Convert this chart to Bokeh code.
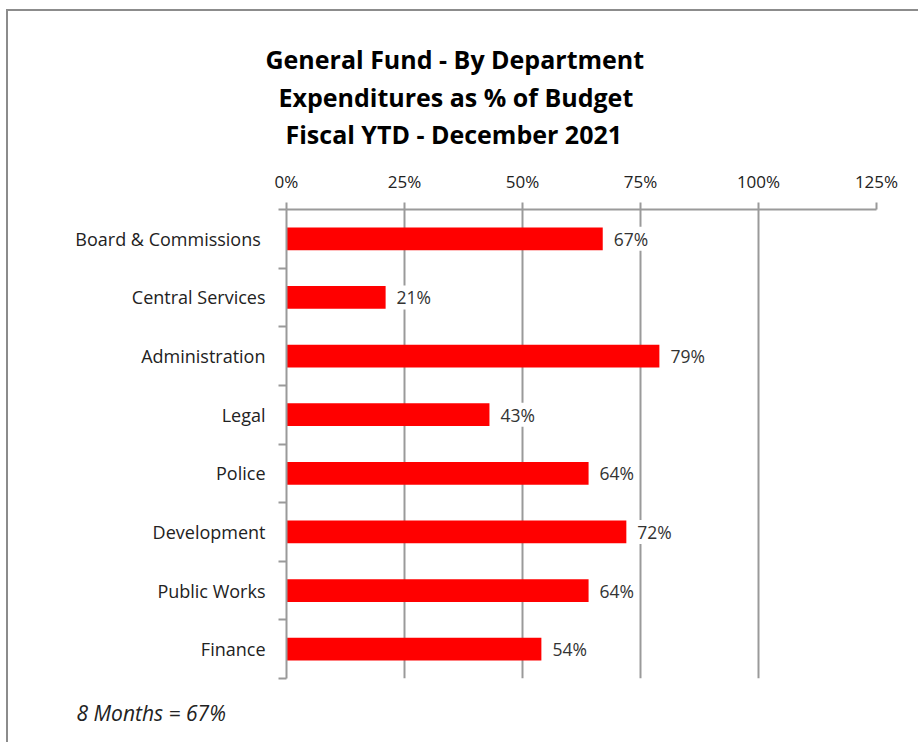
from bokeh.plotting import figure
from bokeh.models import (ColumnDataSource, Range1d, FixedTicker, LabelSet, Title,
                          NumeralTickFormatter)
from bokeh.core.properties import value
from bokeh.embed import file_html
from bokeh.resources import INLINE

# Departments, top to bottom, and their year-to-date spend as % of budget
departments = ["Board  & Commissions", "Central Services", "Administration", "Legal",
               "Police", "Development", "Public Works", "Finance"]
pct_of_budget = [67, 21, 79, 43, 64, 72, 64, 54]
x_ticks = [0, 25, 50, 75, 100, 125]
title_lines = ["General Fund - By Department",
               "Expenditures as % of Budget",
               "Fiscal YTD - December 2021"]
footnote = "8 Months = 67%"

FONT = "Open Sans"
GRID = "#9a9a9a"

n = len(departments)
centers = [i + 0.5 for i in range(n)]
boundaries = list(range(n + 1))

src = ColumnDataSource(dict(
    y=centers,
    pct=pct_of_budget,
    label=[f"{v}%" for v in pct_of_budget],
))

p = figure(width=912, height=733, output_backend="svg", toolbar_location=None,
           x_range=Range1d(0, 125), y_range=Range1d(n, 0),
           x_axis_location="above",
           min_border_left=278, min_border_right=44,
           min_border_top=198, min_border_bottom=66)
p.outline_line_color = None
p.background_fill_color = "white"
p.border_fill_color = "white"

# frame of the whole chart area (left and top edges are visible)
p.styles = {"margin-left": "6px", "margin-top": "9px",
            "border-left": "2px solid #8c8c8c", "border-top": "2px solid #8c8c8c"}

p.hbar(y="y", right="pct", left=0, height=0.39, source=src,
       fill_color="#ff0000", line_color=None)

# top percentage axis
xa = p.xaxis[0]
xa.ticker = FixedTicker(ticks=x_ticks)
xa.formatter = NumeralTickFormatter(format="0")
xa.major_label_overrides = {t: f"{t}%" for t in x_ticks}
xa.axis_line_color = GRID
xa.axis_line_width = 2
xa.major_tick_line_color = GRID
xa.major_tick_line_width = 2
xa.major_tick_out = 7
xa.major_tick_in = 0
xa.minor_tick_line_color = None
xa.major_label_standoff = 10
xa.major_label_text_font = FONT
xa.major_label_text_font_size = "17px"
xa.major_label_text_color = "#222222"

p.xgrid.ticker = FixedTicker(ticks=x_ticks)
p.xgrid.grid_line_color = GRID
p.xgrid.grid_line_width = 2
p.ygrid.grid_line_color = None

# left department axis: names at row centres, ticks at row boundaries
ya = p.yaxis[0]
ya.ticker = FixedTicker(ticks=centers, minor_ticks=boundaries)
ya.major_label_overrides = {c: d for c, d in zip(centers, departments)}
ya.axis_line_color = GRID
ya.axis_line_width = 2
ya.major_tick_line_color = None
ya.major_tick_out = 0
ya.major_tick_in = 0
ya.minor_tick_line_color = GRID
ya.minor_tick_line_width = 2
ya.minor_tick_out = 8
ya.minor_tick_in = 0
ya.major_label_standoff = 13
ya.major_label_text_font = FONT
ya.major_label_text_font_size = "18px"
ya.major_label_text_color = "#222222"

labels = LabelSet(x="pct", y="y", text="label", source=src,
                  x_offset=11, text_align="left", text_baseline="middle",
                  text_font=value(FONT), text_font_size="17.5px", text_color="#333333",
                  background_fill_color="white")
p.add_layout(labels)

# blank spacer between the percentage axis and the heading
p.add_layout(Title(text=" ", text_font_size="8px", standoff=5), "above")

# three-line heading, stacked outward from the axis (last line first)
for line, offset, standoff in zip(reversed(title_lines), [-1, -8, -21], [0, 2, 2]):
    p.add_layout(Title(text=line, align="left", offset=offset, standoff=standoff,
                       text_font=FONT, text_font_style="bold", text_font_size="25px",
                       text_color="black"), "above")

p.add_layout(Title(text=footnote, align="left", offset=-210, standoff=36,
                   text_font=FONT, text_font_style="italic", text_font_size="21px",
                   text_color="#222222"), "below")

open("out.html", "w").write(file_html(p, INLINE))
